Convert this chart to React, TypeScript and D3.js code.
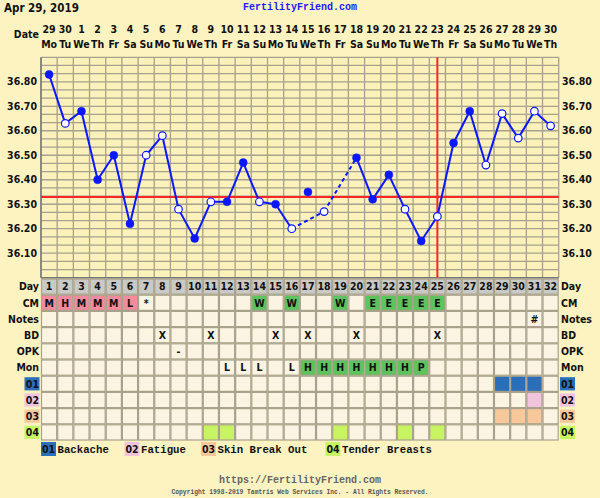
// @ts-nocheck
import * as d3 from 'd3';

// ---- data ----
const dates = [29, 30, 1, 2, 3, 4, 5, 6, 7, 8, 9, 10, 11, 12, 13, 14, 15, 16, 17, 18, 19, 20, 21, 22, 23, 24, 25, 26, 27, 28, 29, 30];
const weekdays = ['Mo', 'Tu', 'We', 'Th', 'Fr', 'Sa', 'Su', 'Mo', 'Tu', 'We', 'Th', 'Fr', 'Sa', 'Su', 'Mo', 'Tu', 'We', 'Th', 'Fr', 'Sa', 'Su', 'Mo', 'Tu', 'We', 'Th', 'Fr', 'Sa', 'Su', 'Mo', 'Tu', 'We', 'Th'];
const temps = [36.83, 36.63, 36.68, 36.40, 36.50, 36.22, 36.50, 36.58, 36.28, 36.16, 36.31, 36.31, 36.47, 36.31, 36.30, 36.20, 36.35, 36.27, null, 36.49, 36.32, 36.42, 36.28, 36.15, 36.25, 36.55, 36.68, 36.46, 36.67, 36.57, 36.68, 36.62];
const openDays = [2, 7, 8, 9, 11, 14, 16, 18, 23, 25, 28, 29, 30, 31, 32];
const discardedDays = [17];
const coverline = 36.33;
const ovulationDay = 25;
const yTicks = [36.1, 36.2, 36.3, 36.4, 36.5, 36.6, 36.7, 36.8];

const rowLabels = ['Day', 'CM', 'Notes', 'BD', 'OPK', 'Mon', '01', '02', '03', '04'];
const cmValues = { 1: 'M', 2: 'H', 3: 'M', 4: 'M', 5: 'M', 6: 'L', 7: '*', 14: 'W', 16: 'W', 19: 'W', 21: 'E', 22: 'E', 23: 'E', 24: 'E', 25: 'E' };
const notesValues = { 31: '#' };
const bdValues = { 8: 'X', 11: 'X', 15: 'X', 17: 'X', 20: 'X', 25: 'X' };
const opkValues = { 9: '-' };
const monValues = { 12: 'L', 13: 'L', 14: 'L', 16: 'L', 17: 'H', 18: 'H', 19: 'H', 20: 'H', 21: 'H', 22: 'H', 23: 'H', 24: 'P' };
const sym01 = [29, 30, 31];
const sym02 = [31];
const sym03 = [29, 30, 31];
const sym04 = [11, 12, 19, 23, 25];
const symptomNames = ['Backache', 'Fatigue', 'Skin Break Out', 'Tender Breasts'];

// ---- style ----
const BG = '#fcf3c1';
const CHART_BG = '#fbf1bb';
const CELL_BG = '#fcf4e2';
const GRID = '#a8a18c';
const BLUE = '#0b18ff';
const RED = '#ff2626';
const PINK = '#f48a9e';
const GREEN = '#5dc45d';
const symColors = ['#2a6fb8', '#f2c3dc', '#f8c79b', '#c8f464'];
const SANS = "'DejaVu Sans Condensed', 'Liberation Sans', sans-serif";
const MONO = "'Liberation Mono', 'Courier New', monospace";

const days = d3.range(1, 33);

export default function App() {
  const x = d3.scaleBand().domain(days).range([41, 558.7]);
  const bw = x.bandwidth();
  const cx = d => x(d) + bw / 2;
  const y = d3.scaleLinear().domain([36.0, 36.9]).range([277.7, 57.3]);
  const row = d3.scaleBand().domain(rowLabels).range([278.5, 440.5]);
  const rh = row.bandwidth();

  const pts = days
    .map((d, i) => ({ day: d, t: temps[i] }))
    .filter(p => p.t != null);
  const valid = pts.filter(p => !discardedDays.includes(p.day));
  const segs = [];
  for (let i = 1; i < valid.length; i++) {
    segs.push({ a: valid[i - 1], b: valid[i], dashed: valid[i].day - valid[i - 1].day > 1 });
  }

  const hLines = d3.range(0, 28).map(k => 36 + k / 30);
  const vLines = d3.range(0, 33).map(k => 41 + k * bw);

  const txt = { fontFamily: SANS, fontWeight: 'bold', fontSize: 10.5 };

  const cellInfo = (label, d) => {
    if (label === 'Day') return { fill: '#c9c9c5', text: String(d) };
    if (label === 'CM') {
      const v = cmValues[d];
      if (!v) return { fill: CELL_BG };
      return { fill: v === '*' ? CELL_BG : 'MHL'.includes(v) && d <= 6 ? PINK : GREEN, text: v };
    }
    if (label === 'Notes') return { fill: CELL_BG, text: notesValues[d] };
    if (label === 'BD') return { fill: CELL_BG, text: bdValues[d] };
    if (label === 'OPK') return { fill: CELL_BG, text: opkValues[d] };
    if (label === 'Mon') {
      const v = monValues[d];
      return { fill: v && v !== 'L' ? GREEN : CELL_BG, text: v };
    }
    const lists = { '01': sym01, '02': sym02, '03': sym03, '04': sym04 };
    const idx = ['01', '02', '03', '04'].indexOf(label);
    return { fill: lists[label].includes(d) ? symColors[idx] : CELL_BG };
  };

  const legendX = [41, 124.5, 201, 325.5];

  return (
    <div style={{ position: 'absolute', left: 0, top: 0, width: 600, height: 498, background: BG }}>
      <svg width={600} height={498} style={{ display: 'block' }}>
        <rect width={600} height={498} fill={BG} />

        {/* header */}
        <text x={4} y={12} style={{ ...txt, fontSize: 11.5 }} fill="#111">Apr 29, 2019</text>
        <text x={300} y={10} textAnchor="middle" fontFamily={MONO} fontWeight="bold" fontSize={10} fill="#1a1aff">FertilityFriend.com</text>
        <text x={39} y={34} dy="0.35em" textAnchor="end" style={txt} fill="#111">Date</text>
        {days.map((d, i) => (
          <g key={'dh' + d}>
            <text x={cx(d)} y={29} dy="0.35em" textAnchor="middle" style={txt} fill="#111">{dates[i]}</text>
            <text x={cx(d)} y={44} dy="0.35em" textAnchor="middle" style={txt} fill="#111">{weekdays[i]}</text>
          </g>
        ))}

        {/* chart grid */}
        <rect x={41} y={57.3} width={558.7 - 41} height={277.7 - 57.3} fill={CHART_BG} />
        {hLines.map((t, i) => (
          <line key={'h' + i} x1={41} x2={558.7} y1={y(t)} y2={y(t)} stroke={GRID} strokeWidth={1.3} />
        ))}
        {vLines.map((v, i) => (
          <line key={'v' + i} x1={v} x2={v} y1={57.3} y2={277.7} stroke={GRID} strokeWidth={1.3} />
        ))}
        <line x1={41} x2={41} y1={57.3} y2={277.7} stroke="#777" strokeWidth={1.5} />
        <line x1={41} x2={558.7} y1={277.7} y2={277.7} stroke="#777" strokeWidth={1.5} />

        {yTicks.map(t => (
          <g key={'yt' + t}>
            <text x={37} y={y(t)} dy="0.35em" textAnchor="end" style={txt} fill="#111">{t.toFixed(2)}</text>
            <text x={562} y={y(t)} dy="0.35em" style={txt} fill="#111">{t.toFixed(2)}</text>
          </g>
        ))}

        {/* coverline & ovulation */}
        <line x1={41} x2={558.7} y1={y(coverline)} y2={y(coverline)} stroke={RED} strokeWidth={2} />
        <line x1={cx(ovulationDay)} x2={cx(ovulationDay)} y1={57.3} y2={277.7} stroke={RED} strokeWidth={2} />

        {/* temperatures */}
        {segs.map((s, i) => (
          <line key={'s' + i} x1={cx(s.a.day)} y1={y(s.a.t)} x2={cx(s.b.day)} y2={y(s.b.t)}
            stroke={BLUE} strokeWidth={2} strokeDasharray={s.dashed ? '4,3' : null} />
        ))}
        {pts.map(p => {
          const open = openDays.includes(p.day);
          return (
            <circle key={'p' + p.day} cx={cx(p.day)} cy={y(p.t)} r={open ? 3.8 : 4}
              fill={open ? '#fff' : BLUE} stroke={BLUE} strokeWidth={open ? 1.2 : 0.5} />
          );
        })}

        {/* table */}
        {rowLabels.map(label => {
          const ry = row(label);
          const idx = ['01', '02', '03', '04'].indexOf(label);
          return (
            <g key={'r' + label}>
              {days.map(d => {
                const c = cellInfo(label, d);
                return (
                  <g key={label + d}>
                    <rect x={x(d) + 0.5} y={ry + 0.5} width={bw - 1} height={rh - 1} fill={c.fill} stroke={GRID} strokeWidth={1.2} />
                    {c.text && (
                      <text x={cx(d)} y={ry + rh / 2} dy="0.36em" textAnchor="middle" style={txt} fill="#111">{c.text}</text>
                    )}
                  </g>
                );
              })}
              {idx >= 0 && (
                <>
                  <rect x={24.5} y={ry + 1.5} width={15} height={rh - 3} fill={symColors[idx]} />
                  <rect x={560} y={ry + 1.5} width={15} height={rh - 3} fill={symColors[idx]} />
                </>
              )}
              <text x={39} y={ry + rh / 2} dy="0.36em" textAnchor="end" style={txt} fill="#111">{label}</text>
              <text x={561} y={ry + rh / 2} dy="0.36em" style={txt} fill="#111">{label}</text>
            </g>
          );
        })}

        {/* legend */}
        {symptomNames.map((n, i) => (
          <g key={'lg' + n}>
            <rect x={legendX[i]} y={442} width={15} height={14} fill={symColors[i]} />
            <text x={legendX[i] + 7.5} y={449} dy="0.36em" textAnchor="middle" style={txt} fill="#111">{'0' + (i + 1)}</text>
            <text x={legendX[i] + 16.5} y={449} dy="0.36em" fontFamily={MONO} fontWeight="bold" fontSize={10.7} fill="#111">{n}</text>
          </g>
        ))}

        {/* footer */}
        <text x={300} y={479} dy="0.35em" textAnchor="middle" fontFamily={MONO} fontWeight="bold" fontSize={10} fill="#666">https://FertilityFriend.com</text>
        <text x={300} y={492} dy="0.35em" textAnchor="middle" fontFamily={MONO} fontWeight="bold" fontSize={6.3} fill="#555">Copyright 1998-2019 Tamtris Web Services Inc. - All Rights Reserved.</text>
      </svg>
    </div>
  );
}
